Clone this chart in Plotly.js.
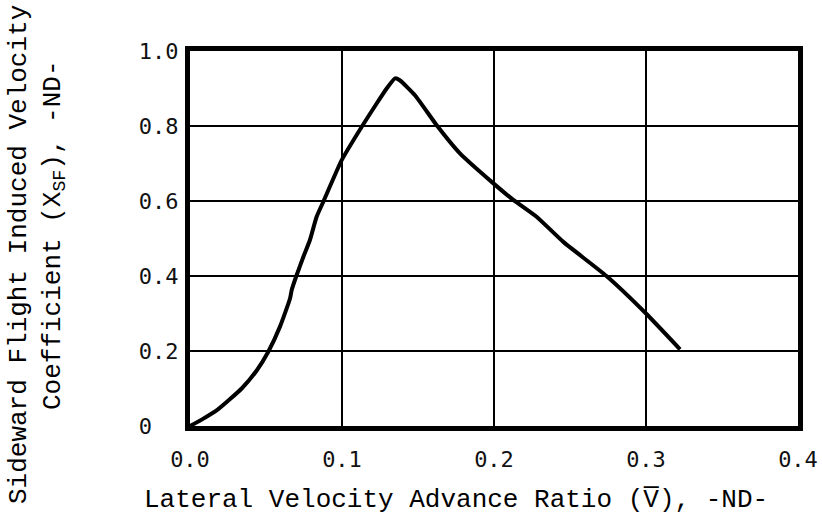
<!DOCTYPE html>
<html>
<head>
<meta charset="utf-8">
<script src="https://cdn.plot.ly/plotly-3.0.1.min.js"></script>
<style>html,body{margin:0;padding:0;background:#fff;}#chart{width:822px;height:526px;}</style>
</head>
<body>
<div id="chart"></div>
<script>
// Lateral velocity advance ratio (V-bar)
const advanceRatio = [0, 0.0077, 0.0186, 0.034, 0.0439, 0.0515, 0.0592, 0.0658, 0.0669, 0.0702, 0.0746, 0.0789, 0.0833, 0.0877, 0.0998, 0.113, 0.1228, 0.1294, 0.1349, 0.138, 0.148, 0.1623, 0.1776, 0.1996, 0.2127, 0.228, 0.2456, 0.274, 0.3, 0.3224];
// Sideward flight induced velocity coefficient X_SF
const coefficientXSF = [0, 0.017, 0.045, 0.1, 0.148, 0.198, 0.265, 0.340, 0.3627, 0.4027, 0.4515, 0.496, 0.558, 0.598, 0.709, 0.798, 0.860, 0.900, 0.927, 0.922, 0.882, 0.802, 0.727, 0.647, 0.603, 0.558, 0.491, 0.4, 0.3, 0.2045];

const xTickVals = [0, 0.1, 0.2, 0.3, 0.4];
const xTickText = ["0.0", "0.1", "0.2", "0.3", "0.4"];
const yTickVals = [0, 0.2, 0.4, 0.6, 0.8, 1.0];
const yTickText = ["0\u00a0\u00a0", "0.2", "0.4", "0.6", "0.8", "1.0"];

const xTitle = "Lateral Velocity Advance Ratio (V\u0305), -ND-";
const yTitleLine1 = "Sideward Flight Induced Velocity";
const yTitleLine2 = "Coefficient (X<sub>SF</sub>), -ND-";

const tickFont = {family: "DejaVu Sans Mono", size: 22, color: "#111"};
const titleFont = {family: "Liberation Mono", size: 26, color: "#000"};

const trace = {
  x: advanceRatio,
  y: coefficientXSF,
  mode: "lines",
  line: {color: "#000", width: 4, shape: "spline", smoothing: 0.5},
  hoverinfo: "skip"
};

const layout = {
  width: 822, height: 526,
  margin: {l: 190, r: 24, t: 51, b: 100},
  paper_bgcolor: "#fff",
  plot_bgcolor: "#fff",
  showlegend: false,
  xaxis: {
    range: [0, 0.4],
    tickvals: xTickVals, ticktext: xTickText,
    showgrid: true, gridcolor: "#000", gridwidth: 2,
    zeroline: false,
    showline: true, linecolor: "#000", linewidth: 5, mirror: true,
    ticks: "", ticklen: 0, ticklabelstandoff: 10,
    tickfont: tickFont
  },
  yaxis: {
    range: [0, 1.0],
    tickvals: yTickVals, ticktext: yTickText,
    showgrid: true, gridcolor: "#000", gridwidth: 2,
    zeroline: false,
    showline: true, linecolor: "#000", linewidth: 5, mirror: true,
    ticks: "", ticklen: 0, ticklabelstandoff: 2,
    tickfont: tickFont
  },
  annotations: [
    {text: xTitle, xref: "paper", yref: "paper", x: (456 - 190) / 608, y: -(500 - 426) / 375,
     xanchor: "center", yanchor: "middle", showarrow: false, font: titleFont},
    {text: yTitleLine1, xref: "paper", yref: "paper", x: (19 - 190) / 608, y: (426 - 255) / 375,
     xanchor: "center", yanchor: "middle", textangle: -90, showarrow: false, font: titleFont},
    {text: yTitleLine2, xref: "paper", yref: "paper", x: (54 - 190) / 608, y: (426 - 235) / 375,
     xanchor: "center", yanchor: "middle", textangle: -90, showarrow: false, font: titleFont}
  ]
};

Plotly.newPlot("chart", [trace], layout, {displayModeBar: false, staticPlot: true});
</script>
</body>
</html>
